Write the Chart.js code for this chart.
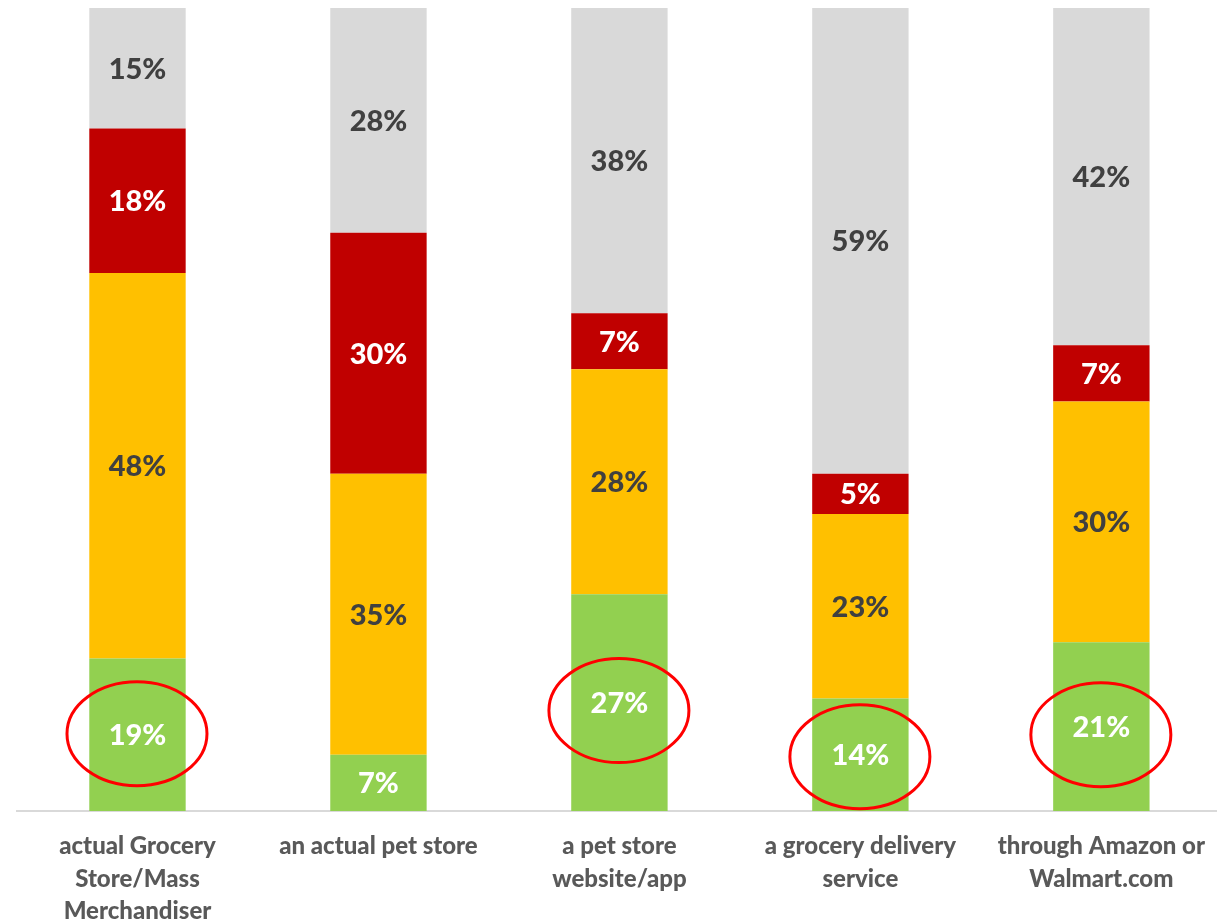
<!DOCTYPE html>
<html>
<head>
<meta charset="utf-8">
<script src="https://cdn.jsdelivr.net/npm/chart.js@4"></script>
<style>
  html, body { margin: 0; padding: 0; background: #ffffff; overflow: hidden; }
  #wrap { position: absolute; left: 0; top: 0; width: 1224px; height: 924px; }
</style>
</head>
<body>
<div id="wrap"><canvas id="chart" width="1224" height="924"></canvas></div>
<script>
// Where pet food is bought: share of answers per channel (stacked to 100%)
const categories = [
  ["actual Grocery", "Store/Mass", "Merchandiser"],
  ["an actual pet store"],
  ["a pet store", "website/app"],
  ["a grocery delivery", "service"],
  ["through Amazon or", "Walmart.com"]
];
const greenValues  = [19, 7, 27, 14, 21];
const yellowValues = [48, 35, 28, 23, 30];
const redValues    = [18, 30, 7, 5, 7];
const greyValues   = [15, 28, 38, 59, 42];
// channels whose bottom segment gets a red ring
const highlighted  = [true, false, true, true, true];

const FONT = "Lato, 'Open Sans', sans-serif";

const series = [
  { label: "green",  data: greenValues,  backgroundColor: "#92D050", text: "#ffffff" },
  { label: "yellow", data: yellowValues, backgroundColor: "#FFC000", text: "#404040" },
  { label: "red",    data: redValues,    backgroundColor: "#C00000", text: "#ffffff" },
  { label: "grey",   data: greyValues,   backgroundColor: "#D9D9D9", text: "#404040" }
];

// Writes each segment's value in its visible middle, then rings the highlighted ones
const segmentLabels = {
  id: "segmentLabels",
  afterDatasetsDraw(chart, args, opts) {
    const ctx = chart.ctx;
    const area = chart.chartArea;
    ctx.save();
    ctx.font = "900 29px " + FONT;
    ctx.textAlign = "center";
    ctx.textBaseline = "middle";
    chart.data.datasets.forEach((ds, di) => {
      const meta = chart.getDatasetMeta(di);
      meta.data.forEach((bar, i) => {
        const top = Math.max(Math.min(bar.y, bar.base), area.top);
        const bottom = Math.min(Math.max(bar.y, bar.base), area.bottom);
        const cy = (top + bottom) / 2;
        ctx.fillStyle = ds.textColor;
        ctx.fillText(ds.data[i] + "%", bar.x, cy + 1);
      });
    });
    // red rings around the bottom segment labels (hand-drawn, slightly off-centre)
    const base = chart.getDatasetMeta(0);
    ctx.strokeStyle = "#FF0000";
    ctx.lineWidth = 3;
    base.data.forEach((bar, i) => {
      if (!highlighted[i]) return;
      const top = Math.min(bar.y, bar.base);
      const bottom = Math.max(bar.y, bar.base);
      const cy = (top + bottom) / 2 + opts.ringShift[i];
      ctx.beginPath();
      ctx.ellipse(bar.x - 0.5, cy, 70, 52, 0, 0, Math.PI * 2);
      ctx.stroke();
    });
    ctx.restore();
  }
};

new Chart(document.getElementById("chart"), {
  type: "bar",
  data: {
    labels: categories,
    datasets: series.map(s => ({
      label: s.label,
      data: s.data,
      backgroundColor: s.backgroundColor,
      textColor: s.text,
      borderWidth: 0,
      barPercentage: 0.4,
      categoryPercentage: 1.0,
      clip: 0
    }))
  },
  options: {
    responsive: false,
    animation: false,
    devicePixelRatio: 1,
    layout: { padding: { left: 17, top: 8, right: 0, bottom: 0 } },
    plugins: {
      legend: { display: false },
      tooltip: { enabled: false },
      segmentLabels: { ringShift: [-1, 0, 8, 2, 8] }
    },
    scales: {
      x: {
        stacked: true,
        grid: { display: false, drawTicks: false },
        border: { display: true, color: "#D9D9D9", width: 2 },
        ticks: {
          color: "#595959",
          font: { family: FONT, size: 24, weight: "900", lineHeight: 1.36 },
          padding: 19,
          maxRotation: 0,
          autoSkip: false
        },
        afterFit(scale) { scale.height = 113; }
      },
      y: {
        stacked: true,
        display: false,
        min: 0,
        max: 100
      }
    }
  },
  plugins: [segmentLabels]
});
</script>
</body>
</html>
